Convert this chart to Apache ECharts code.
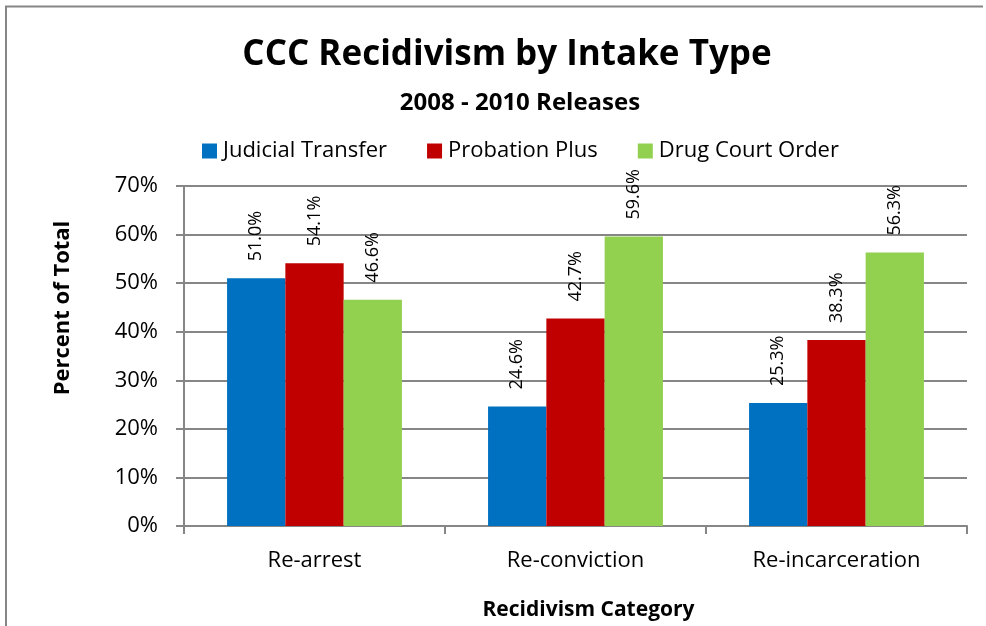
<!DOCTYPE html>
<html>
<head>
<meta charset="utf-8">
<script src="https://cdn.jsdelivr.net/npm/echarts@6/dist/echarts.min.js"></script>
<style>
  html, body { margin: 0; padding: 0; background: #fff; }
  #chart { width: 986px; height: 626px; }
</style>
</head>
<body>
<div id="chart"></div>
<script>
// categories and series
var categories = ["Re-arrest", "Re-conviction", "Re-incarceration"];
var judicialTransfer = [51.0, 24.6, 25.3];
var probationPlus = [54.1, 42.7, 38.3];
var drugCourtOrder = [46.6, 59.6, 56.3];

var FONT = "Open Sans";
var AXIS_GRAY = "#868686";

function barSeries(name, data, color) {
  return {
    name: name,
    type: "bar",
    data: data,
    barGap: "0%",
    barCategoryGap: "33%",
    itemStyle: { color: color },
    label: {
      show: true,
      position: "top",
      rotate: 90,
      align: "left",
      verticalAlign: "middle",
      distance: 17,
      fontFamily: FONT,
      fontSize: 18,
      color: "#000",
      formatter: function (p) {
        return p.value.toFixed(1) + "%";
      }
    }
  };
}

var chart = echarts.init(document.getElementById("chart"));
var option = {
  backgroundColor: "#fff",
  animation: false,
  title: [
    {
      // title of the panel above, cut off by the page edge
      text: "CCC Recidivism by Intake Type",
      left: 545,
      textAlign: "center",
      top: -34,
      textStyle: { fontFamily: FONT, fontWeight: "bold", fontSize: 28, color: "#000" }
    },
    {
      text: "CCC Recidivism by Intake Type",
      left: 502,
      textAlign: "center",
      top: 33,
      textStyle: { fontFamily: FONT, fontWeight: "bold", fontSize: 35, color: "#000" }
    },
    {
      text: "2008 - 2010 Releases",
      left: 515,
      textAlign: "center",
      top: 86,
      textStyle: { fontFamily: FONT, fontWeight: "bold", fontSize: 24, color: "#000" }
    }
  ],
  legend: {
    top: 135,
    left: 197,
    itemWidth: 15,
    itemHeight: 15,
    itemGap: 40,
    icon: "rect",
    textStyle: { fontFamily: FONT, fontSize: 22, color: "#000", padding: [0, 0, 0, 1] },
    data: ["Judicial Transfer", "Probation Plus", "Drug Court Order"]
  },
  grid: {
    left: 184,
    right: 19,
    top: 186,
    bottom: 93,
    containLabel: false
  },
  xAxis: {
    type: "category",
    data: categories,
    name: "Recidivism Category",
    nameLocation: "middle",
    nameGap: 74,
    nameTextStyle: {
      fontFamily: FONT,
      fontWeight: "bold",
      fontSize: 21,
      color: "#000",
      padding: [0, 0, 0, 26]
    },
    axisLine: { lineStyle: { color: AXIS_GRAY, width: 2 } },
    axisTick: { show: true, length: 8, lineStyle: { color: AXIS_GRAY, width: 2 } },
    axisLabel: { fontFamily: FONT, fontSize: 22, color: "#000", margin: 24 }
  },
  yAxis: {
    type: "value",
    min: 0,
    max: 70,
    interval: 10,
    axisLine: { show: true, lineStyle: { color: AXIS_GRAY, width: 2 } },
    axisTick: { show: true, length: 8, lineStyle: { color: AXIS_GRAY, width: 2 } },
    axisLabel: {
      fontFamily: FONT,
      fontSize: 22,
      color: "#000",
      margin: 26,
      formatter: "{value}%"
    },
    splitLine: { lineStyle: { color: AXIS_GRAY, width: 2 } }
  },
  graphic: [
    {
      type: "polyline",
      shape: { points: [[6, 640], [6, 6.5], [983, 6.5]] },
      style: { stroke: AXIS_GRAY, lineWidth: 2, fill: null }
    },
    {
      // y axis title
      type: "text",
      x: 63,
      y: 308,
      rotation: Math.PI / 2,
      style: {
        text: "Percent of Total",
        fontFamily: FONT,
        fontWeight: "bold",
        fontSize: 22,
        fill: "#000",
        textAlign: "center",
        textVerticalAlign: "middle"
      }
    }
  ],
  series: [
    barSeries("Judicial Transfer", judicialTransfer, "#0070C0"),
    barSeries("Probation Plus", probationPlus, "#C00000"),
    barSeries("Drug Court Order", drugCourtOrder, "#92D050")
  ]
};
chart.setOption(option);
window.addEventListener("resize", function () {
  chart.resize();
});
</script>
</body>
</html>
